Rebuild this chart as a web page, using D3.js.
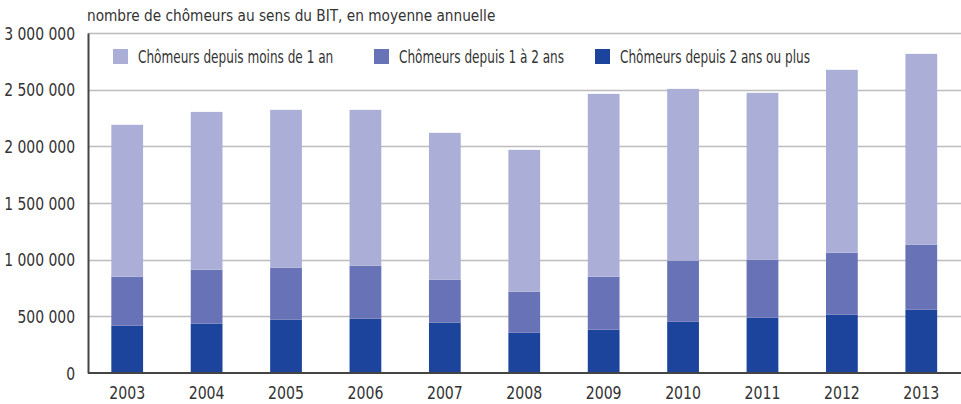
<!doctype html>
<html>
<head>
  <meta charset="utf-8">
  <title>Chômeurs au sens du BIT</title>
  <script src="https://d3js.org/d3.v7.min.js"></script>
  <style>
    body { margin: 0; background: #fff; }
    text { font-family: "DejaVu Sans Condensed", "Liberation Sans", sans-serif; fill: #333; }
  </style>
</head>
<body>
  <div id="chart"></div>
  <script>

    // categories and series (values in thousands)
    var years = ["2003", "2004", "2005", "2006", "2007", "2008", "2009", "2010", "2011", "2012", "2013"];
    var plus2ans = [417, 435, 470, 479, 444, 355, 382, 452, 488, 514, 558];
    var de1a2ans = [432, 476, 459, 467, 379, 362, 467, 538, 511, 547, 573];
    var moins1an = [1341, 1393, 1393, 1376, 1296, 1252, 1614, 1517, 1473, 1614, 1685];
    var yTicks = [0, 500000, 1000000, 1500000, 2000000, 2500000, 3000000];
    var seriesNames = ["Chômeurs depuis moins de 1 an", "Chômeurs depuis 1 à 2 ans", "Chômeurs depuis 2 ans ou plus"];
    var seriesColors = ["#abafd7", "#6872b6", "#1d449c"];

    var width = 961, height = 404;
    var margin = { top: 33, right: 0, bottom: 31, left: 88 };

    var svg = d3.select("#chart")
      .append("svg")
      .attr("width", width)
      .attr("height", height);

    // the original uses a condensed face, so squeeze the text a bit
    function squeeze(sel, k) {
      sel.each(function () {
        var w = this.getComputedTextLength();
        d3.select(this).attr("textLength", w * k).attr("lengthAdjust", "spacingAndGlyphs");
      });
    }

    // table for the stack
    var table = years.map(function (y, i) {
      return { year: y, plus2: plus2ans[i] * 1000, de1a2: de1a2ans[i] * 1000, moins1: moins1an[i] * 1000 };
    });
    var keys = ["plus2", "de1a2", "moins1"];
    var colorOf = { plus2: seriesColors[2], de1a2: seriesColors[1], moins1: seriesColors[0] };

    var x = d3.scaleBand()
      .domain(years)
      .range([margin.left - 0.5, width])
      .paddingInner(0.6)
      .paddingOuter(0.3);

    var y = d3.scaleLinear()
      .domain([0, 3000000])
      .range([height - margin.bottom, margin.top]);

    var fmt = function (d) { return d3.format(",")(d).replace(/,/g, " "); };

    // gridlines
    svg.append("g")
      .selectAll("line")
      .data(yTicks.slice(1))
      .join("line")
      .attr("x1", margin.left)
      .attr("x2", width)
      .attr("y1", function (d) { return Math.round(y(d)) + 0.5; })
      .attr("y2", function (d) { return Math.round(y(d)) + 0.5; })
      .attr("stroke", "#bdbdbd")
      .attr("stroke-width", 1.5);

    // bars
    var stacked = d3.stack().keys(keys)(table);
    svg.append("g")
      .selectAll("g")
      .data(stacked)
      .join("g")
      .attr("fill", function (s) { return colorOf[s.key]; })
      .selectAll("rect")
      .data(function (s) { return s; })
      .join("rect")
      .attr("x", function (d) { return x(d.data.year); })
      .attr("width", x.bandwidth())
      .attr("y", function (d) { return y(d[1]); })
      .attr("height", function (d) { return y(d[0]) - y(d[1]); });

    // y axis
    var yAxis = svg.append("g")
      .attr("transform", "translate(" + margin.left + ",0)")
      .call(d3.axisLeft(y).tickValues(yTicks).tickFormat(fmt).tickSize(0).tickPadding(13));
    yAxis.select(".domain").attr("stroke", "#444").attr("stroke-width", 2);
    yAxis.selectAll("text").style("font-size", "18px").attr("dy", "0.34em").call(squeeze, 0.86);

    // x axis
    var xAxis = svg.append("g")
      .attr("transform", "translate(0," + (height - margin.bottom) + ")")
      .call(d3.axisBottom(x).tickSize(0).tickPadding(13));
    xAxis.select(".domain").attr("stroke", "#444").attr("stroke-width", 2)
      .attr("d", "M" + margin.left + ",0H" + width);
    xAxis.selectAll("text").style("font-size", "18px").call(squeeze, 0.87);

    // title
    svg.append("text")
      .attr("x", margin.left - 1)
      .attr("y", 21)
      .style("font-size", "16px")
      .text("nombre de chômeurs au sens du BIT, en moyenne annuelle")
      .call(squeeze, 0.95);

    // legend
    var legendX = [113, 374, 595];
    var legend = svg.append("g")
      .selectAll("g")
      .data(seriesNames)
      .join("g")
      .attr("transform", function (d, i) { return "translate(" + legendX[i] + ",49)"; });
    legend.append("rect")
      .attr("width", 15)
      .attr("height", 15)
      .attr("fill", function (d, i) { return seriesColors[i]; });
    legend.append("text")
      .attr("x", 25)
      .attr("y", 14)
      .style("font-size", "17px")
      .text(function (d) { return d; })
      .call(squeeze, 0.79);

  </script>
</body>
</html>
